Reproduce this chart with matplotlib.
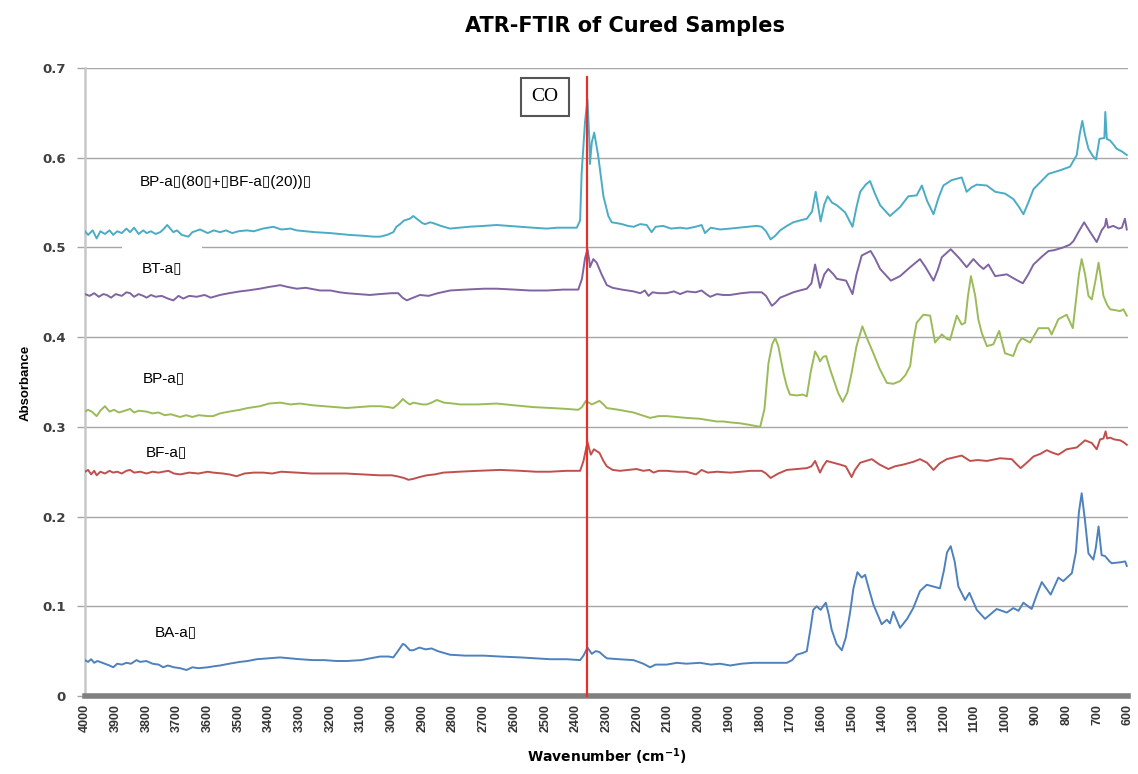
import matplotlib
matplotlib.use("Agg")
import matplotlib.pyplot as plt

# BP-a(80) + BF-a(20)
wn_mix = [4000, 3990, 3975, 3962, 3950, 3935, 3920, 3908, 3895, 3880, 3865, 3853, 3840, 3825, 3810, 3799,
          3785, 3770, 3755, 3745, 3732, 3722, 3712, 3700, 3685, 3663, 3650, 3625, 3600, 3580, 3560, 3540,
          3520, 3500, 3473, 3450, 3420, 3386, 3360, 3330, 3310, 3280, 3250, 3201, 3170, 3140, 3093, 3060,
          3038, 3015, 2995, 2985, 2973, 2960, 2941, 2930, 2915, 2900, 2891, 2875, 2864, 2840, 2810, 2780,
          2750, 2700, 2658, 2620, 2580, 2540, 2495, 2460, 2430, 2397, 2386, 2381, 2370, 2362, 2356, 2354,
          2348, 2340, 2327, 2310, 2294, 2283, 2265, 2250, 2230, 2212, 2190, 2169, 2153, 2140, 2115, 2090,
          2060, 2038, 2010, 1990, 1979, 1960, 1930, 1897, 1870, 1840, 1810, 1794, 1780, 1765, 1750, 1734,
          1712, 1691, 1670, 1647, 1630, 1618, 1602, 1590, 1579, 1565, 1549, 1522, 1498, 1485, 1473, 1455,
          1441, 1425, 1408, 1376, 1343, 1316, 1289, 1272, 1255, 1234, 1218, 1202, 1175, 1142, 1126, 1110,
          1093, 1060, 1033, 1001, 974, 955, 941, 925, 908, 885, 859, 840, 821, 789, 767, 758,
          749, 740, 729, 715, 704, 693, 677, 674, 669, 658, 648, 637, 620, 604]
abs_mix = [0.518, 0.514, 0.519, 0.510, 0.518, 0.515, 0.519, 0.514, 0.518, 0.516, 0.521, 0.517, 0.522, 0.515, 0.519, 0.516,
           0.518, 0.515, 0.517, 0.520, 0.525, 0.521, 0.517, 0.519, 0.514, 0.512, 0.517, 0.520, 0.516, 0.519, 0.517, 0.519,
           0.516, 0.518, 0.519, 0.518, 0.521, 0.523, 0.520, 0.521, 0.519, 0.518, 0.517, 0.516, 0.515, 0.514, 0.513, 0.512,
           0.512, 0.514, 0.517, 0.523, 0.526, 0.530, 0.532, 0.535, 0.531, 0.527, 0.526, 0.528, 0.527, 0.524, 0.521, 0.522,
           0.523, 0.524, 0.525, 0.524, 0.523, 0.522, 0.521, 0.522, 0.522, 0.522, 0.530, 0.583, 0.640, 0.665, 0.620, 0.593,
           0.617, 0.628, 0.602, 0.557, 0.535, 0.528, 0.527, 0.526, 0.524, 0.523, 0.526, 0.525, 0.517, 0.523, 0.524, 0.521,
           0.522, 0.521, 0.523, 0.525, 0.516, 0.522, 0.520, 0.521, 0.522, 0.523, 0.524, 0.523, 0.518, 0.509, 0.513, 0.519,
           0.524, 0.528, 0.530, 0.532, 0.540, 0.562, 0.529, 0.548, 0.557, 0.550, 0.547, 0.539, 0.523, 0.545, 0.562, 0.570,
           0.574, 0.560, 0.547, 0.535, 0.545, 0.557, 0.558, 0.569, 0.552, 0.537, 0.555, 0.569, 0.575, 0.578, 0.562, 0.567,
           0.570, 0.569, 0.562, 0.560, 0.554, 0.545, 0.537, 0.550, 0.565, 0.573, 0.582, 0.584, 0.586, 0.590, 0.603, 0.625,
           0.641, 0.625, 0.610, 0.602, 0.598, 0.621, 0.622, 0.651, 0.621, 0.619, 0.615, 0.610, 0.607, 0.603]

# BT-a
wn_bt = [4000, 3985, 3970, 3955, 3940, 3929, 3915, 3900, 3880, 3865, 3853, 3840, 3825, 3810, 3799, 3785,
         3770, 3750, 3730, 3712, 3695, 3680, 3660, 3636, 3610, 3590, 3560, 3530, 3495, 3470, 3430, 3400,
         3380, 3364, 3340, 3310, 3280, 3234, 3200, 3170, 3147, 3110, 3071, 3040, 3000, 2979, 2965, 2951,
         2930, 2908, 2880, 2850, 2810, 2760, 2700, 2658, 2600, 2550, 2495, 2440, 2392, 2380, 2370, 2362,
         2356, 2354, 2343, 2332, 2316, 2299, 2280, 2250, 2212, 2190, 2175, 2163, 2150, 2130, 2104, 2080,
         2060, 2038, 2010, 1990, 1975, 1962, 1940, 1920, 1897, 1860, 1830, 1794, 1780, 1761, 1750, 1734,
         1712, 1691, 1670, 1647, 1632, 1620, 1604, 1590, 1577, 1560, 1549, 1519, 1498, 1485, 1468, 1439,
         1425, 1408, 1373, 1343, 1310, 1278, 1260, 1234, 1220, 1207, 1178, 1150, 1126, 1104, 1085, 1071,
         1055, 1033, 995, 970, 943, 925, 908, 880, 859, 840, 811, 790, 778, 760, 743, 725,
         702, 686, 675, 671, 665, 648, 630, 620, 610, 604]
abs_bt = [0.448, 0.446, 0.449, 0.445, 0.448, 0.447, 0.444, 0.448, 0.446, 0.450, 0.449, 0.445, 0.448, 0.446, 0.444, 0.447,
          0.445, 0.446, 0.443, 0.441, 0.446, 0.443, 0.446, 0.445, 0.447, 0.444, 0.447, 0.449, 0.451, 0.452, 0.454, 0.456,
          0.457, 0.458, 0.456, 0.454, 0.455, 0.452, 0.452, 0.450, 0.449, 0.448, 0.447, 0.448, 0.449, 0.449, 0.444, 0.441,
          0.444, 0.447, 0.446, 0.449, 0.452, 0.453, 0.454, 0.454, 0.453, 0.452, 0.452, 0.453, 0.453, 0.465, 0.488, 0.498,
          0.485, 0.478, 0.487, 0.483, 0.470, 0.458, 0.455, 0.453, 0.451, 0.449, 0.452, 0.446, 0.450, 0.449, 0.449, 0.451,
          0.448, 0.451, 0.450, 0.452, 0.448, 0.445, 0.448, 0.447, 0.447, 0.449, 0.450, 0.450, 0.446, 0.435, 0.438, 0.444,
          0.447, 0.450, 0.452, 0.454, 0.460, 0.481, 0.455, 0.470, 0.476, 0.470, 0.465, 0.463, 0.448, 0.470, 0.491, 0.496,
          0.488, 0.476, 0.463, 0.468, 0.478, 0.487, 0.478, 0.463, 0.475, 0.489, 0.498, 0.488, 0.478, 0.487, 0.480, 0.476,
          0.481, 0.468, 0.470, 0.465, 0.460, 0.470, 0.481, 0.490, 0.496, 0.497, 0.500, 0.503, 0.507, 0.518, 0.528, 0.518,
          0.506, 0.519, 0.524, 0.532, 0.522, 0.524, 0.521, 0.522, 0.532, 0.520]

# BP-a
wn_bp = [4000, 3990, 3978, 3962, 3950, 3935, 3920, 3905, 3890, 3870, 3853, 3840, 3825, 3799, 3780, 3760,
         3740, 3720, 3700, 3690, 3670, 3650, 3630, 3600, 3582, 3560, 3530, 3495, 3470, 3430, 3400, 3364,
         3330, 3300, 3256, 3220, 3180, 3147, 3110, 3070, 3038, 3010, 2995, 2980, 2964, 2950, 2941, 2930,
         2900, 2886, 2870, 2853, 2830, 2800, 2777, 2720, 2658, 2600, 2538, 2480, 2430, 2392, 2380, 2367,
         2348, 2335, 2323, 2310, 2299, 2260, 2212, 2185, 2158, 2130, 2104, 2070, 2040, 1995, 1960, 1941,
         1920, 1897, 1865, 1830, 1799, 1785, 1772, 1760, 1750, 1740, 1723, 1712, 1702, 1680, 1660, 1647,
         1635, 1620, 1610, 1604, 1594, 1584, 1572, 1560, 1545, 1530, 1515, 1501, 1485, 1466, 1450, 1430,
         1410, 1386, 1365, 1343, 1325, 1310, 1300, 1289, 1267, 1245, 1235, 1229, 1207, 1190, 1180, 1158,
         1142, 1131, 1122, 1112, 1098, 1088, 1077, 1060, 1039, 1020, 1001, 974, 960, 946, 930, 919,
         892, 870, 859, 849, 827, 800, 780, 770, 760, 751, 740, 729, 718, 705, 696, 688,
         680, 668, 658, 640, 626, 615, 604]
abs_bp = [0.317, 0.319, 0.317, 0.312, 0.318, 0.323, 0.317, 0.319, 0.316, 0.318, 0.320, 0.316, 0.318, 0.317, 0.315, 0.316,
          0.313, 0.314, 0.312, 0.311, 0.313, 0.311, 0.313, 0.312, 0.312, 0.315, 0.317, 0.319, 0.321, 0.323, 0.326, 0.327,
          0.325, 0.326, 0.324, 0.323, 0.322, 0.321, 0.322, 0.323, 0.323, 0.322, 0.321, 0.325, 0.331, 0.327, 0.325, 0.327,
          0.325, 0.325, 0.327, 0.330, 0.327, 0.326, 0.325, 0.325, 0.326, 0.324, 0.322, 0.321, 0.320, 0.319, 0.322, 0.329,
          0.325, 0.327, 0.329, 0.325, 0.321, 0.319, 0.316, 0.313, 0.310, 0.312, 0.312, 0.311, 0.310, 0.309, 0.307, 0.306,
          0.306, 0.305, 0.304, 0.302, 0.300, 0.320, 0.371, 0.392, 0.399, 0.390, 0.360, 0.345, 0.336, 0.335, 0.336, 0.334,
          0.360, 0.384, 0.378, 0.373, 0.378, 0.379, 0.365, 0.353, 0.338, 0.328, 0.338, 0.360, 0.390, 0.412, 0.398, 0.382,
          0.365, 0.349, 0.348, 0.351, 0.358, 0.368, 0.395, 0.416, 0.425, 0.424, 0.405, 0.394, 0.403, 0.398, 0.397, 0.424,
          0.414, 0.416, 0.445, 0.468, 0.446, 0.420, 0.405, 0.390, 0.392, 0.407, 0.382, 0.379, 0.392, 0.399, 0.396, 0.394,
          0.410, 0.410, 0.410, 0.403, 0.420, 0.425, 0.410, 0.440, 0.470, 0.487, 0.470, 0.446, 0.442, 0.465, 0.483, 0.465,
          0.446, 0.436, 0.431, 0.430, 0.429, 0.431, 0.424]

# BF-a
wn_bf = [4000, 3990, 3980, 3970, 3962, 3950, 3935, 3920, 3908, 3895, 3880, 3865, 3853, 3840, 3820, 3799,
         3780, 3760, 3745, 3728, 3710, 3690, 3660, 3630, 3600, 3582, 3550, 3530, 3506, 3480, 3450, 3419,
         3390, 3360, 3310, 3260, 3201, 3150, 3093, 3040, 3000, 2984, 2960, 2946, 2930, 2910, 2886, 2860,
         2832, 2780, 2720, 2647, 2580, 2530, 2484, 2430, 2386, 2375, 2362, 2356, 2351, 2341, 2323, 2310,
         2299, 2280, 2256, 2230, 2202, 2180, 2160, 2147, 2130, 2104, 2070, 2040, 2008, 1990, 1970, 1940,
         1897, 1860, 1830, 1794, 1780, 1765, 1740, 1712, 1680, 1647, 1632, 1620, 1604, 1594, 1582, 1560,
         1539, 1520, 1501, 1490, 1473, 1435, 1410, 1381, 1360, 1332, 1300, 1278, 1255, 1234, 1215, 1191,
         1142, 1115, 1090, 1060, 1017, 979, 965, 950, 930, 908, 885, 865, 845, 827, 800, 767,
         740, 718, 702, 691, 680, 673, 668, 658, 645, 626, 615, 604]
abs_bf = [0.250, 0.252, 0.247, 0.251, 0.246, 0.250, 0.248, 0.251, 0.249, 0.250, 0.248, 0.251, 0.252, 0.249, 0.250, 0.248,
          0.250, 0.249, 0.250, 0.251, 0.248, 0.247, 0.249, 0.248, 0.250, 0.249, 0.248, 0.247, 0.245, 0.248, 0.249, 0.249,
          0.248, 0.250, 0.249, 0.248, 0.248, 0.248, 0.247, 0.246, 0.246, 0.245, 0.243, 0.241, 0.242, 0.244, 0.246, 0.247,
          0.249, 0.250, 0.251, 0.252, 0.251, 0.250, 0.250, 0.251, 0.251, 0.262, 0.283, 0.275, 0.269, 0.275, 0.271, 0.262,
          0.256, 0.252, 0.251, 0.252, 0.253, 0.251, 0.252, 0.249, 0.251, 0.251, 0.250, 0.250, 0.247, 0.252, 0.249, 0.250,
          0.249, 0.250, 0.251, 0.251, 0.248, 0.243, 0.248, 0.252, 0.253, 0.254, 0.256, 0.262, 0.249, 0.256, 0.262, 0.260,
          0.258, 0.256, 0.244, 0.252, 0.260, 0.264, 0.258, 0.253, 0.256, 0.258, 0.261, 0.264, 0.260, 0.252, 0.259, 0.264,
          0.268, 0.262, 0.263, 0.262, 0.265, 0.264, 0.259, 0.254, 0.260, 0.267, 0.270, 0.274, 0.271, 0.269, 0.275, 0.277,
          0.285, 0.282, 0.275, 0.286, 0.287, 0.295, 0.287, 0.288, 0.286, 0.285, 0.283, 0.280]

# BA-a
wn_ba = [4000, 3990, 3980, 3970, 3960, 3951, 3935, 3920, 3908, 3895, 3880, 3865, 3850, 3832, 3820, 3800,
         3780, 3760, 3745, 3730, 3710, 3690, 3669, 3650, 3630, 3600, 3582, 3560, 3530, 3495, 3470, 3440,
         3400, 3364, 3330, 3300, 3256, 3220, 3180, 3147, 3100, 3070, 3038, 3010, 2995, 2980, 2964, 2957,
         2941, 2930, 2910, 2890, 2870, 2850, 2810, 2760, 2700, 2647, 2580, 2530, 2484, 2430, 2386, 2375,
         2362, 2348, 2335, 2323, 2310, 2299, 2260, 2212, 2180, 2158, 2140, 2104, 2070, 2040, 1995, 1960,
         1930, 1897, 1860, 1821, 1780, 1740, 1712, 1695, 1680, 1660, 1647, 1635, 1626, 1615, 1602, 1594,
         1585, 1575, 1566, 1550, 1533, 1520, 1506, 1495, 1482, 1468, 1457, 1445, 1430, 1403, 1386, 1376,
         1365, 1343, 1320, 1300, 1278, 1256, 1213, 1200, 1190, 1178, 1165, 1153, 1131, 1117, 1093, 1066,
         1045, 1028, 995, 974, 957, 941, 914, 895, 881, 852, 827, 811, 783, 770, 760, 751,
         740, 729, 713, 705, 696, 686, 675, 660, 653, 626, 609, 604]
abs_ba = [0.040, 0.038, 0.041, 0.037, 0.039, 0.038, 0.036, 0.034, 0.032, 0.036, 0.035, 0.037, 0.036, 0.040, 0.038, 0.039,
          0.036, 0.035, 0.032, 0.034, 0.032, 0.031, 0.029, 0.032, 0.031, 0.032, 0.033, 0.034, 0.036, 0.038, 0.039, 0.041,
          0.042, 0.043, 0.042, 0.041, 0.040, 0.040, 0.039, 0.039, 0.040, 0.042, 0.044, 0.044, 0.043, 0.050, 0.058, 0.057,
          0.051, 0.051, 0.054, 0.052, 0.053, 0.050, 0.046, 0.045, 0.045, 0.044, 0.043, 0.042, 0.041, 0.041, 0.040, 0.045,
          0.054, 0.047, 0.050, 0.049, 0.045, 0.042, 0.041, 0.040, 0.036, 0.032, 0.035, 0.035, 0.037, 0.036, 0.037, 0.035,
          0.036, 0.034, 0.036, 0.037, 0.037, 0.037, 0.037, 0.040, 0.046, 0.048, 0.050, 0.075, 0.096, 0.100, 0.096, 0.100,
          0.104, 0.090, 0.074, 0.058, 0.051, 0.065, 0.093, 0.120, 0.138, 0.132, 0.135, 0.120, 0.102, 0.080, 0.085, 0.081,
          0.094, 0.076, 0.086, 0.098, 0.117, 0.124, 0.120, 0.140, 0.160, 0.167, 0.150, 0.122, 0.107, 0.115, 0.096, 0.086,
          0.092, 0.097, 0.093, 0.098, 0.095, 0.104, 0.097, 0.115, 0.127, 0.113, 0.132, 0.128, 0.137, 0.160, 0.205, 0.226,
          0.195, 0.159, 0.152, 0.165, 0.189, 0.157, 0.156, 0.150, 0.148, 0.149, 0.150, 0.145]

series = [
    (wn_mix, abs_mix, "#4bacc6"),
    (wn_bt, abs_bt, "#8064a2"),
    (wn_bp, abs_bp, "#9bbb59"),
    (wn_bf, abs_bf, "#c0504d"),
    (wn_ba, abs_ba, "#4f81bd"),
]

box = "\u25af"
labels = ["BP-a" + box + "(80" + box + "+" + box + "BF-a" + box + "(20))" + box,
          "BT-a" + box, "BP-a" + box, "BF-a" + box, "BA-a" + box]
label_x = [3821, 3814, 3811, 3801, 3772]
label_y = [0.573, 0.477, 0.3545, 0.272, 0.0713]

co_peak = 2362
x_ticks = list(range(4000, 599, -100))
y_ticks = [0, 0.1, 0.2, 0.3, 0.4, 0.5, 0.6, 0.7]

fig = plt.figure(figsize=(11.38, 7.74), dpi=100)
ax = fig.add_axes([85 / 1138, 1 - 696 / 774, (1128 - 85) / 1138, (696 - 68) / 774])

for wn, ab, color in series:
    ax.plot(wn, ab, color=color, lw=1.4, zorder=3)

ax.plot([co_peak, co_peak], [0, 0.69], color="#e8302a", lw=1.6, zorder=4, clip_on=False)

for i, txt in enumerate(labels):
    kw = {}
    if i == 1:
        # white text box hides part of the 0.5 gridline, like the original
        kw["bbox"] = dict(facecolor="white", edgecolor="none", boxstyle="square,pad=1.3")
    ax.text(label_x[i], label_y[i], txt, fontsize=11, va="center", ha="left",
            family=["Liberation Sans", "DejaVu Sans"], zorder=2, **kw)

ax.text(2500, 0.668, "CO", fontsize=14, family="Liberation Serif", ha="center", va="center",
        bbox=dict(facecolor="white", edgecolor="#555555", lw=1.5, boxstyle="square,pad=0.55"), zorder=5)

ax.set_xlim(4000, 600)
ax.set_ylim(0, 0.7)
ax.set_xticks(x_ticks)
ax.set_xticklabels([str(t) for t in x_ticks], rotation=90, fontsize=9, fontweight="bold",
                   family="Liberation Sans", color="#333333")
ax.set_yticks(y_ticks)
ax.set_yticklabels(["0", "0.1", "0.2", "0.3", "0.4", "0.5", "0.6", "0.7"], fontsize=9.5,
                   fontweight="bold", color="#404040")
ax.tick_params(axis="x", length=0, pad=6)
ax.tick_params(axis="y", length=6, color="#a6a6a6", width=1, pad=8)

ax.grid(axis="y", color="#a6a6a6", lw=1)
ax.set_axisbelow(True)
for s in ["top", "right"]:
    ax.spines[s].set_visible(False)
ax.spines["left"].set_color("#c8c8c8")
ax.spines["left"].set_linewidth(1.8)
ax.spines["bottom"].set_color("#808080")
ax.spines["bottom"].set_linewidth(4)

ax.set_xlabel(r"Wavenumber (cm$^{\mathbf{-1}}$)", fontsize=10, fontweight="bold", labelpad=10)
fig.text(26 / 1138, 1 - 383 / 774, "Absorbance", fontsize=9.5, fontweight="bold",
         family="Liberation Sans", rotation=90, ha="center", va="center")
fig.text(0.549, 0.967, "ATR-FTIR of Cured Samples", fontsize=15, fontweight="bold",
         ha="center", va="center")

fig.savefig("out.png", dpi=100)
